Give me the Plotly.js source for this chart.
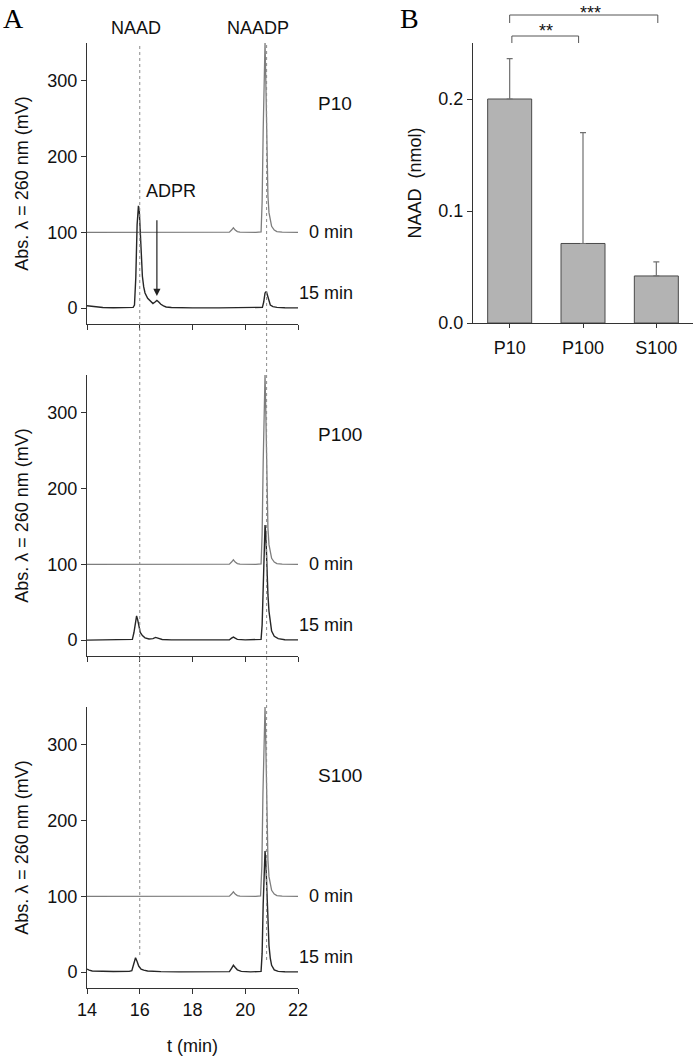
<!DOCTYPE html>
<html>
<head>
<meta charset="utf-8">
<script src="https://cdn.plot.ly/plotly-3.0.1.min.js"></script>
<style>html,body{margin:0;padding:0;background:#fff;}#chart{width:693px;height:1061px;}</style>
</head>
<body>
<div id="chart"></div>
<script>
// ---------- Panel A: chromatograms (t in min, absorbance in mV) ----------
const tP10_0 = [14, 15, 16, 17, 18, 19, 19.4, 19.48, 19.55, 19.62, 19.7, 19.8, 20.0, 20.4, 20.6, 20.64, 20.68, 20.72, 20.75, 20.78, 20.82, 20.86, 20.9, 20.95, 21.0, 21.1, 21.2, 21.4, 22];
const vP10_0 = [100, 100, 100.3, 100, 100, 100, 100.3, 103, 106, 103, 101, 100.3, 100, 100, 100.5, 140, 235, 320, 350, 300, 200, 148, 126, 114, 108, 103, 101, 100.3, 100];

const tP10_15 = [14, 14.1, 14.3, 14.6, 15, 15.5, 15.75, 15.8, 15.85, 15.9, 15.95, 15.98, 16.02, 16.06, 16.1, 16.15, 16.2, 16.3, 16.4, 16.5, 16.58, 16.65, 16.72, 16.8, 16.9, 17.0, 17.2, 17.5, 18, 19, 19.5, 19.6, 20, 20.5, 20.65, 20.7, 20.75, 20.8, 20.85, 20.9, 20.95, 21.05, 21.2, 21.5, 22];
const vP10_15 = [3, 2.5, 1.5, 0.8, 0.5, 0.5, 1, 4, 40, 110, 135, 130, 100, 65, 42, 28, 20, 13, 9, 6, 8, 10, 8, 5, 3, 1.5, 0.8, 0.5, 0.3, 0.3, 0.3, 0.3, 0.2, 0.3, 1, 8, 20, 22, 15, 8, 4, 2, 1, 0.5, 0.3];

const tP100_0 = [14, 15, 16, 17, 18, 19, 19.4, 19.48, 19.55, 19.62, 19.7, 19.8, 20.0, 20.4, 20.6, 20.64, 20.68, 20.72, 20.75, 20.78, 20.82, 20.86, 20.9, 20.95, 21.0, 21.1, 21.2, 21.4, 22];
const vP100_0 = [100, 100, 100.2, 100, 100, 100, 100.3, 103, 106, 103, 101, 100.3, 100, 100, 100.5, 140, 235, 320, 350, 300, 200, 148, 126, 114, 108, 103, 101, 100.3, 100];

const tP100_15 = [14, 15, 15.6, 15.72, 15.78, 15.83, 15.88, 15.92, 15.97, 16.02, 16.1, 16.2, 16.35, 16.5, 16.6, 16.7, 16.85, 17.2, 18, 19, 19.4, 19.48, 19.55, 19.62, 19.7, 20.0, 20.5, 20.6, 20.64, 20.68, 20.72, 20.75, 20.78, 20.82, 20.86, 20.9, 20.95, 21.0, 21.1, 21.25, 21.5, 22];
const vP100_15 = [0, 0, 0.2, 1, 10, 25, 32, 27, 17, 10, 6, 3, 1.5, 2, 3.5, 2, 0.8, 0.3, 0.2, 0.2, 0.5, 2.5, 4, 2.5, 1, 0.3, 0.3, 1, 20, 80, 135, 152, 140, 95, 60, 38, 22, 12, 5, 2, 0.5, 0.3];

const tS100_0 = [14, 15, 16, 17, 18, 19, 19.4, 19.48, 19.55, 19.62, 19.7, 19.8, 20.0, 20.4, 20.58, 20.63, 20.67, 20.71, 20.75, 20.78, 20.82, 20.86, 20.9, 20.95, 21.0, 21.1, 21.2, 21.4, 22];
const vS100_0 = [100, 100, 100.4, 100, 100, 100, 100.3, 103, 106, 103, 101, 100.3, 100, 100, 100.5, 140, 235, 320, 350, 300, 200, 148, 126, 114, 108, 103, 101, 100.3, 100];

const tS100_15 = [14, 14.08, 14.2, 14.5, 15, 15.6, 15.7, 15.75, 15.8, 15.84, 15.9, 15.96, 16.05, 16.15, 16.3, 16.45, 16.55, 16.65, 16.8, 17.5, 18, 19, 19.4, 19.48, 19.55, 19.62, 19.7, 19.85, 20.2, 20.6, 20.64, 20.68, 20.72, 20.75, 20.78, 20.82, 20.86, 20.9, 20.95, 21.0, 21.1, 21.25, 21.5, 22];
const vS100_15 = [4, 2.5, 1.5, 1, 0.8, 1, 2, 8, 17, 19, 14, 8, 4, 2.5, 1.5, 1.2, 1.8, 1.2, 0.6, 0.3, 0.3, 0.3, 0.6, 5, 9, 6, 3, 1, 0.3, 1, 25, 90, 145, 160, 145, 100, 60, 35, 18, 9, 3, 1, 0.5, 0.3];

const fractionNames = ["P10", "P100", "S100"];
const timeLabels = ["0 min", "15 min"];
const naadTime = 16.0;
const naadpTime = 20.81;
const yTicksA = [0, 100, 200, 300];
const xTicksA = [14, 16, 18, 20, 22];

// ---------- Panel B: NAAD (nmol) ----------
const barCategories = ["P10", "P100", "S100"];
const barValues = [0.200, 0.071, 0.042];
const barErrors = [0.036, 0.099, 0.0125];
const barTicks = [0, 0.1, 0.2];
const barTickText = ["0.0", "0.1", "0.2"];

// ---------- styles ----------
const FONT = "Arial, 'Liberation Sans', sans-serif";
const SERIF = "'Times New Roman', 'Liberation Serif', serif";
const AX = "#333";
const C0 = "#7d7d7d";
const C15 = "#262626";
const H = 1061, W = 693;
const py = px => 1 - px / H;
const pxx = px => px / W;

const traces = [];
const sets = [
  [tP10_0, vP10_0, tP10_15, vP10_15, "x", "y"],
  [tP100_0, vP100_0, tP100_15, vP100_15, "x2", "y2"],
  [tS100_0, vS100_0, tS100_15, vS100_15, "x3", "y3"]
];
sets.forEach(s => {
  traces.push({x: s[0], y: s[1], xaxis: s[4], yaxis: s[5], type: "scatter", mode: "lines",
    line: {color: C0, width: 1.3}, hoverinfo: "skip"});
  traces.push({x: s[2], y: s[3], xaxis: s[4], yaxis: s[5], type: "scatter", mode: "lines",
    line: {color: C15, width: 1.4}, hoverinfo: "skip"});
});
traces.push({x: barCategories, y: barValues, xaxis: "x4", yaxis: "y4", type: "bar", width: 0.6,
  marker: {color: "#b3b3b3", line: {color: "#4a4a4a", width: 1}},
  error_y: {type: "data", symmetric: false, array: barErrors, arrayminus: [0, 0, 0], color: "#707070", thickness: 1.2, width: 3}
});

const xDomA = [pxx(87), pxx(298)];
const panelY = [[324, 43], [656, 375], [988, 707]];
function xA(i, labels) {
  return {domain: xDomA, range: [14, 22], anchor: "y" + (i === 0 ? "" : i + 1),
    tickvals: xTicksA, showticklabels: labels, ticks: "outside", ticklen: 5, tickcolor: AX, tickwidth: 1,
    showline: true, linecolor: AX, linewidth: 1, showgrid: false, zeroline: false,
    tickfont: {family: FONT, size: 18, color: "#111"},
    title: labels ? {text: "t (min)", font: {family: FONT, size: 18, color: "#111"}, standoff: 20} : {text: ""}};
}
function yA(i) {
  return {domain: [py(panelY[i][0]), py(panelY[i][1])], range: [-21, 350], anchor: "x" + (i === 0 ? "" : i + 1),
    tickvals: yTicksA, ticks: "outside", ticklen: 5, tickcolor: AX, tickwidth: 1,
    showline: true, linecolor: AX, linewidth: 1, showgrid: false, zeroline: false,
    tickfont: {family: FONT, size: 18, color: "#111"},
    title: {text: "Abs. λ = 260 nm (mV)", font: {family: FONT, size: 18, color: "#111"}, standoff: 14}};
}

const annotations = [
  {text: "A", xref: "paper", yref: "paper", x: pxx(1), y: py(19), xanchor: "left", yanchor: "middle", showarrow: false, font: {family: SERIF, size: 28, color: "#000"}},
  {text: "B", xref: "paper", yref: "paper", x: pxx(398), y: py(19), xanchor: "left", yanchor: "middle", showarrow: false, font: {family: SERIF, size: 28, color: "#000"}},
  {text: "NAAD", xref: "x", yref: "paper", x: 15.85, y: py(28), yanchor: "middle", showarrow: false, font: {family: FONT, size: 18, color: "#111"}},
  {text: "NAADP", xref: "x", yref: "paper", x: 20.5, y: py(28), yanchor: "middle", showarrow: false, font: {family: FONT, size: 18, color: "#111"}},
  {text: "ADPR", xref: "x", yref: "y", x: 17.2, y: 155, yanchor: "middle", showarrow: false, font: {family: FONT, size: 18, color: "#111"}},
  {text: "", xref: "x", yref: "y", x: 16.65, y: 16, axref: "x", ayref: "y", ax: 16.65, ay: 118, showarrow: true,
    arrowhead: 2, arrowsize: 1.2, arrowwidth: 1.2, arrowcolor: "#222"},
  {text: "**", xref: "x4", yref: "paper", x: 0.5, y: py(31), yanchor: "middle", showarrow: false, font: {family: FONT, size: 18, color: "#111"}},
  {text: "***", xref: "x4", yref: "paper", x: 1.1, y: py(13), yanchor: "middle", showarrow: false, font: {family: FONT, size: 18, color: "#111"}}
];
const panelLabelY = [270, 272, 260];
fractionNames.forEach((n, i) => {
  const ya = "y" + (i === 0 ? "" : i + 1);
  annotations.push({text: n, xref: "paper", yref: ya, x: pxx(316), y: panelLabelY[i], xanchor: "left", yanchor: "middle", showarrow: false,
    font: {family: FONT, size: 19, color: "#111"}});
  annotations.push({text: timeLabels[0], xref: "paper", yref: ya, x: pxx(355), y: 100, xanchor: "right", yanchor: "middle", showarrow: false,
    font: {family: FONT, size: 18, color: "#111"}});
  annotations.push({text: timeLabels[1], xref: "paper", yref: ya, x: pxx(355), y: 20, xanchor: "right", yanchor: "middle", showarrow: false,
    font: {family: FONT, size: 18, color: "#111"}});
});

const bl = {color: "#555", width: 1};
const shapes = [
  {type: "line", xref: "x3", yref: "paper", x0: naadTime, x1: naadTime, y0: py(955), y1: py(45), line: {color: "#8a8a8a", width: 1, dash: "dot"}, layer: "above"},
  {type: "line", xref: "x3", yref: "paper", x0: naadpTime, x1: naadpTime, y0: py(960), y1: py(45), line: {color: "#8a8a8a", width: 1, dash: "dot"}, layer: "above"},
  // *** bracket P10 - S100
  {type: "line", xref: "x4", yref: "paper", x0: 0, x1: 2.02, y0: py(15), y1: py(15), line: bl},
  {type: "line", xref: "x4", yref: "paper", x0: 0, x1: 0, y0: py(15), y1: py(23), line: bl},
  {type: "line", xref: "x4", yref: "paper", x0: 2.02, x1: 2.02, y0: py(15), y1: py(23), line: bl},
  // ** bracket P10 - P100
  {type: "line", xref: "x4", yref: "paper", x0: 0.03, x1: 0.94, y0: py(36), y1: py(36), line: bl},
  {type: "line", xref: "x4", yref: "paper", x0: 0.03, x1: 0.03, y0: py(36), y1: py(43), line: bl},
  {type: "line", xref: "x4", yref: "paper", x0: 0.94, x1: 0.94, y0: py(36), y1: py(43), line: bl}
];

const layout = {
  width: W, height: H,
  margin: {l: 0, r: 0, t: 0, b: 0},
  paper_bgcolor: "#fff", plot_bgcolor: "rgba(0,0,0,0)",
  showlegend: false,
  font: {family: FONT, size: 18, color: "#111"},
  xaxis: xA(0, false), yaxis: yA(0),
  xaxis2: xA(1, false), yaxis2: yA(1),
  xaxis3: xA(2, true), yaxis3: yA(2),
  xaxis4: {domain: [pxx(473), 1], range: [-0.5, 2.5], anchor: "y4", type: "category",
    ticks: "outside", ticklen: 4, tickcolor: AX, showline: true, linecolor: AX, linewidth: 1,
    showgrid: false, zeroline: false, tickfont: {family: FONT, size: 18, color: "#111"}, ticklabelstandoff: 4},
  yaxis4: {domain: [py(323), py(43)], range: [0, 0.25], anchor: "x4",
    tickvals: barTicks, ticktext: barTickText, ticks: "outside", ticklen: 5, tickcolor: AX,
    showline: true, linecolor: AX, linewidth: 1, showgrid: false, zeroline: false,
    tickfont: {family: FONT, size: 18, color: "#111"},
    title: {text: "NAAD\u00a0 (nmol)", font: {family: FONT, size: 18, color: "#111"}, standoff: 12}},
  annotations: annotations,
  shapes: shapes
};

Plotly.newPlot("chart", traces, layout, {displayModeBar: false, staticPlot: true});
</script>
</body>
</html>
